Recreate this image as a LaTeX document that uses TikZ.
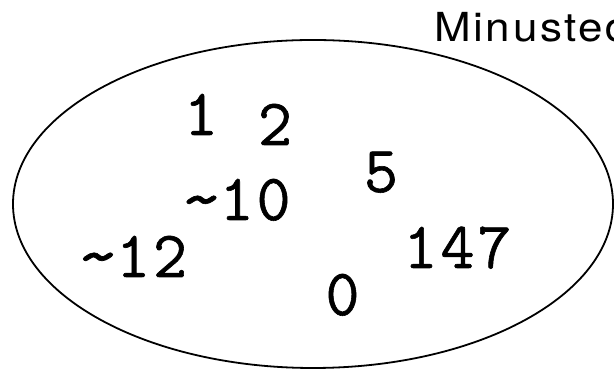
\documentclass[tikz,border=0pt]{standalone}
\usepackage{fontspec}
\usepackage{graphicx}
\usetikzlibrary{shapes.geometric}
\newfontfamily\titlefont[LetterSpace=6]{TeX Gyre Heros}
\newfontfamily\memberfont[FakeBold=0.9,LetterSpace=4.5]{Latin Modern Mono}
% a wider tilde that keeps the width of one typewriter cell
\newcommand{\wtilde}{\makebox[0.55em]{\raisebox{-1pt}{\scalebox{1.3}[1.05]{\textasciitilde}}}}
\tikzset{
  setline/.style={draw=black, line width=1.8pt},
  member/.style={inner sep=0pt, anchor=base, font=\fontsize{66}{70}\selectfont\memberfont},
  settitle/.style={inner sep=0pt, anchor=base west, font=\fontsize{40}{44}\selectfont\titlefont}
}
\begin{document}
\begin{tikzpicture}[x=1pt,y=1pt]
  \useasboundingbox (0,0) rectangle (614,369);
  \clip (0,0) rectangle (614,369);
  % the set
  \node[setline, ellipse, inner sep=0pt, minimum width=600pt, minimum height=328pt] (set) at (313,165) {};
  % its name
  \node[settitle] (title) at (434,327.5) {\scalebox{1.1}[1]{Minusted}};
  % its members
  \node[member] (one) at (201,234) {1};
  \node[member] (two) at (275,224) {2};
  \node[member] (five) at (381,177) {5};
  \node[member] (mten) at (237,149) {\wtilde10};
  \node[member] (mtwelve) at (133.5,92) {\wtilde12};
  \node[member] (hfs) at (457.5,101) {147};
  \node[member] (zero) at (342.5,54) {0};
\end{tikzpicture}
\end{document}
